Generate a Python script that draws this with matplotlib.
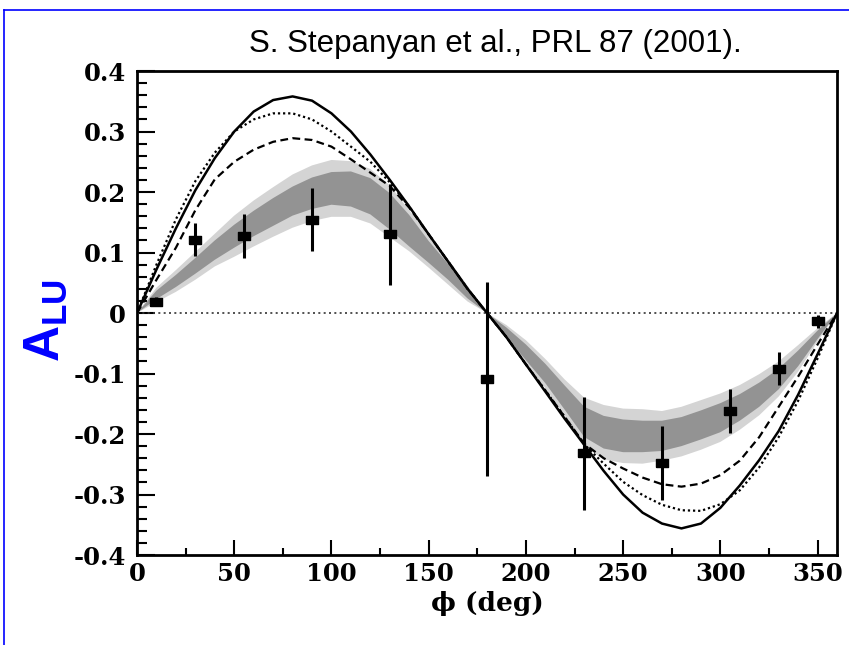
import matplotlib
matplotlib.use("Agg")
import matplotlib.pyplot as plt
import numpy as np
from matplotlib.lines import Line2D

plt.rcParams['axes.unicode_minus'] = False
plt.rcParams['mathtext.fontset'] = 'custom'
plt.rcParams['mathtext.bf'] = 'Liberation Sans:bold'
plt.rcParams['mathtext.rm'] = 'Liberation Sans'

# ---------------- data ----------------
phi_curve = [0, 10, 20, 30, 40, 50, 60, 70, 80, 90, 100, 110, 120, 130, 140, 150, 160, 170, 180,
             190, 200, 210, 220, 230, 240, 250, 260, 270, 280, 290, 300, 310, 320, 330, 340, 350, 360]

solid = [0, 0.072, 0.140, 0.203, 0.256, 0.300, 0.333, 0.352, 0.358, 0.351, 0.330, 0.300, 0.262,
         0.220, 0.176, 0.130, 0.085, 0.040, 0,
         -0.040, -0.085, -0.130, -0.175, -0.218, -0.261, -0.300, -0.330, -0.348, -0.356, -0.348,
         -0.322, -0.285, -0.243, -0.195, -0.135, -0.068, 0]

dotted = [0, 0.080, 0.155, 0.218, 0.265, 0.300, 0.320, 0.330, 0.330, 0.320, 0.300, 0.275, 0.250,
          0.216, 0.176, 0.130, 0.085, 0.040, 0,
          -0.040, -0.085, -0.128, -0.172, -0.217, -0.249, -0.279, -0.301, -0.317, -0.326, -0.327,
          -0.316, -0.293, -0.255, -0.205, -0.145, -0.075, 0]

dashed = [0, 0.055, 0.108, 0.170, 0.221, 0.250, 0.270, 0.283, 0.289, 0.286, 0.275, 0.254, 0.232,
          0.210, 0.174, 0.130, 0.085, 0.040, 0,
          -0.040, -0.085, -0.128, -0.172, -0.216, -0.240, -0.257, -0.272, -0.283, -0.287, -0.282,
          -0.268, -0.244, -0.205, -0.155, -0.105, -0.052, 0]

band_center = [0, 0.030, 0.053, 0.078, 0.104, 0.127, 0.148, 0.167, 0.185, 0.198, 0.206, 0.205,
               0.193, 0.168, 0.136, 0.101, 0.068, 0.032, 0,
               -0.032, -0.065, -0.100, -0.140, -0.180, -0.197, -0.203, -0.204, -0.203, -0.196,
               -0.185, -0.173, -0.156, -0.135, -0.109, -0.075, -0.036, 0]
band_inner = [0, 0.007, 0.010, 0.013, 0.016, 0.019, 0.021, 0.023, 0.024, 0.026, 0.027, 0.029,
              0.030, 0.030, 0.026, 0.018, 0.013, 0.008, 0,
              0.008, 0.013, 0.016, 0.020, 0.025, 0.027, 0.027, 0.026, 0.025, 0.024, 0.024,
              0.024, 0.022, 0.020, 0.017, 0.013, 0.007, 0]
band_outer = [0, 0.012, 0.018, 0.023, 0.027, 0.034, 0.038, 0.041, 0.044, 0.046, 0.047, 0.046,
              0.045, 0.043, 0.034, 0.026, 0.021, 0.013, 0,
              0.012, 0.020, 0.024, 0.030, 0.040, 0.045, 0.045, 0.045, 0.041, 0.041, 0.041,
              0.040, 0.037, 0.034, 0.029, 0.022, 0.011, 0]

phi_data = [10, 30, 55, 90, 130, 180, 230, 270, 305, 330, 350]
alu_data = [0.019, 0.121, 0.127, 0.154, 0.130, -0.109, -0.232, -0.248, -0.162, -0.092, -0.014]
alu_err = [0.008, 0.027, 0.036, 0.052, 0.083, 0.160, 0.093, 0.061, 0.036, 0.027, 0.010]

x_ticks = [0, 50, 100, 150, 200, 250, 300, 350]
x_minor = [25, 75, 125, 175, 225, 275, 325]
y_ticks = [-0.4, -0.3, -0.2, -0.1, 0, 0.1, 0.2, 0.3, 0.4]
y_labels = ['-0.4', '-0.3', '-0.2', '-0.1', '0', '0.1', '0.2', '0.3', '0.4']

citation = 'S. Stepanyan et al., PRL 87 (2001).'
x_label = '\u03d5 (deg)'
y_label = r'$\mathbf{A}_{\mathbf{LU}}$'

# ---------------- figure ----------------
fig = plt.figure(figsize=(8.49, 6.45), dpi=100)
ax = fig.add_axes([0.1614, 0.1395, 0.8245, 0.7504])

phi = np.array(phi_curve, dtype=float)
c = np.array(band_center)
bi = np.array(band_inner)
bo = np.array(band_outer)
ax.fill_between(phi, c - bo, c + bo, facecolor='#d4d4d4', edgecolor='none', zorder=1)
ax.fill_between(phi, c - bi, c + bi, facecolor='#939393', edgecolor='none', zorder=2)

ax.axhline(0, color='#333333', lw=1.2, ls=(0, (1.2, 2.0)), zorder=3)

ax.plot(phi, solid, color='black', lw=1.8, zorder=4, solid_joinstyle='round')
ax.plot(phi, dotted, color='black', lw=1.6, ls=(0, (1, 1.3)), zorder=4)
ax.plot(phi, dashed, color='black', lw=1.6, ls=(0, (3.5, 2)), zorder=4)

ax.errorbar(phi_data, alu_data, yerr=alu_err, fmt='none', ecolor='black',
            elinewidth=2.2, capsize=0, zorder=5)
rect = [(-1, -0.7), (1, -0.7), (1, 0.7), (-1, 0.7), (-1, -0.7)]
ax.plot(phi_data, alu_data, linestyle='none', marker=rect, markersize=8.6,
        color='black', zorder=6)

ax.set_xlim(0, 360)
ax.set_ylim(-0.4, 0.4)

ax.set_xticks(x_ticks)
ax.set_xticks(x_minor, minor=True)
ax.set_yticks(y_ticks)
ax.set_yticklabels(y_labels)
ax.set_yticks(np.arange(-0.4, 0.401, 0.02), minor=True)

for lab in ax.get_xticklabels() + ax.get_yticklabels():
    lab.set_fontfamily('DejaVu Serif')
    lab.set_fontweight('bold')
    lab.set_fontsize(17.5)

ax.tick_params(axis='x', which='major', direction='in', length=11, width=1.5, pad=5,
               top=False, bottom=True)
ax.tick_params(axis='x', which='minor', direction='in', length=5, width=1.5,
               top=False, bottom=True)
ax.tick_params(axis='y', which='major', direction='in', length=13, width=1.5, pad=8,
               left=True, right=False)
ax.tick_params(axis='y', which='minor', direction='in', length=7, width=1.5,
               left=True, right=False)

for s in ax.spines.values():
    s.set_linewidth(2)

ax.set_xlabel(x_label, fontfamily='DejaVu Serif', fontweight='bold', fontsize=19)
ax.xaxis.set_label_coords(0.5, -0.074)
ax.set_ylabel(y_label, fontsize=36, color='#0000ff')
ax.yaxis.set_label_coords(-0.0957, 0.4845)

fig.text(0.5836, 0.932, citation, ha='center', va='center', fontsize=22.5,
         family='Liberation Sans')

# blue frame lines of the slide
fig.add_artist(Line2D([4 / 849, 1.0], [1 - 10 / 645, 1 - 10 / 645],
                      transform=fig.transFigure, color='#0000ff', lw=1.2))
fig.add_artist(Line2D([4 / 849, 4 / 849], [0.0, 1 - 10 / 645],
                      transform=fig.transFigure, color='#0000ff', lw=1.2))

fig.savefig('out.png', dpi=100)
